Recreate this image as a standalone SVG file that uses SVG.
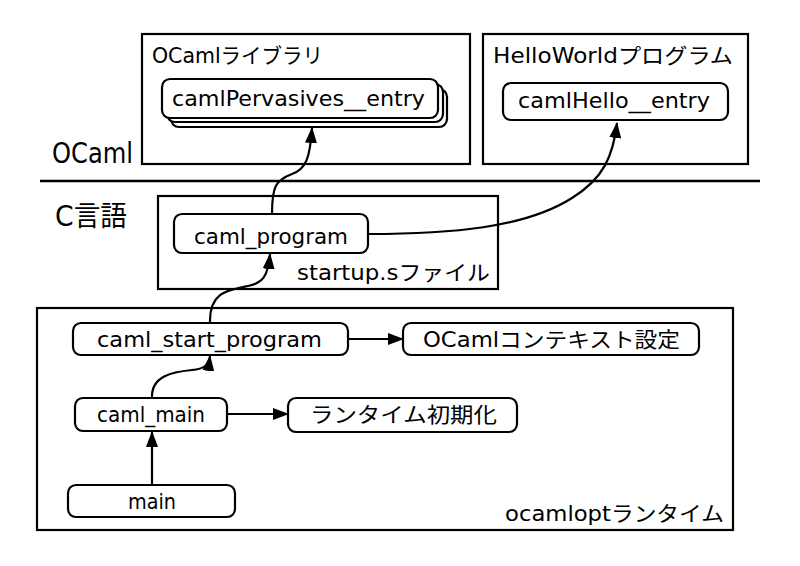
<svg xmlns="http://www.w3.org/2000/svg" width="800" height="566" viewBox="0 0 800 566">
<style>
.box{fill:#fff;stroke:#000;stroke-width:2.2}
.node{fill:#fff;stroke:#000;stroke-width:2.2}
.t{font-family:"DejaVu Sans","Noto Sans CJK JP",sans-serif;font-size:21px;fill:#000}
.big{font-family:"DejaVu Sans","Noto Sans CJK JP",sans-serif;font-size:28px;fill:#000}
.c{fill:none;stroke:#000;stroke-width:2.2}
</style>
<defs>
<marker id="ah" markerUnits="userSpaceOnUse" markerWidth="16" markerHeight="12" refX="15" refY="6" orient="auto" viewBox="0 0 16 12">
<path d="M0,0 L16,6 L0,12 z" fill="#000"/>
</marker>
</defs>
<rect width="800" height="566" fill="#fff"/>

<g id="lib">
<rect class="box" x="142" y="34" width="328" height="130"/>
<text class="t" x="152" y="63" textLength="171" lengthAdjust="spacingAndGlyphs">OCamlライブラリ</text>
</g>
<g id="pervasives">
<rect class="node" x="171" y="89" width="276" height="38" rx="8"/>
<rect class="node" x="167" y="84" width="276" height="38" rx="8"/>
<rect class="node" x="162" y="79" width="276" height="39" rx="8"/>
<text class="t" x="172" y="106" textLength="253" lengthAdjust="spacingAndGlyphs">camlPervasives__entry</text>
</g>
<g id="hello">
<rect class="box" x="483" y="34" width="265" height="130"/>
<text class="t" x="493" y="63" textLength="240" lengthAdjust="spacingAndGlyphs">HelloWorldプログラム</text>
</g>
<g id="hello_entry">
<rect class="node" x="503" y="83" width="225" height="37" rx="8"/>
<text class="t" x="518" y="108" textLength="192" lengthAdjust="spacingAndGlyphs">camlHello__entry</text>
</g>

<g id="separator">
<line x1="40" y1="181" x2="760" y2="181" stroke="#000" stroke-width="2.5"/>
<text class="big" x="52" y="163" textLength="81" lengthAdjust="spacingAndGlyphs">OCaml</text>
<text class="big" x="55" y="226" textLength="72" lengthAdjust="spacingAndGlyphs">C言語</text>
</g>

<g id="startup">
<rect class="box" x="158" y="196" width="340" height="93"/>
<text class="t" x="297" y="280" textLength="193" lengthAdjust="spacingAndGlyphs">startup.sファイル</text>
</g>
<g id="caml_program">
<rect class="node" x="174" y="214" width="194" height="39" rx="8"/>
<text class="t" x="194" y="244" textLength="154" lengthAdjust="spacingAndGlyphs">caml_program</text>
</g>

<g id="runtime">
<rect class="box" x="37" y="308" width="696" height="222"/>
<text class="t" x="505" y="521" textLength="219" lengthAdjust="spacingAndGlyphs">ocamloptランタイム</text>
</g>
<g id="caml_start_program">
<rect class="node" x="73" y="323" width="275" height="32" rx="8"/>
<text class="t" x="97" y="347" textLength="225" lengthAdjust="spacingAndGlyphs">caml_start_program</text>
</g>
<g id="context">
<rect class="node" x="403" y="323" width="296" height="32" rx="8"/>
<text class="t" x="423" y="347" textLength="257" lengthAdjust="spacingAndGlyphs">OCamlコンテキスト設定</text>
</g>
<g id="caml_main">
<rect class="node" x="75" y="398" width="152" height="33" rx="8"/>
<text class="t" x="97" y="422" textLength="108" lengthAdjust="spacingAndGlyphs">caml_main</text>
</g>
<g id="init">
<rect class="node" x="288" y="398" width="229" height="34" rx="8"/>
<text class="t" x="310" y="422" textLength="187" lengthAdjust="spacingAndGlyphs">ランタイム初期化</text>
</g>
<g id="main">
<rect class="node" x="68" y="485" width="167" height="32" rx="8"/>
<text class="t" x="128" y="509" textLength="48" lengthAdjust="spacingAndGlyphs">main</text>
</g>

<g id="connectors">
<path class="c" marker-end="url(#ah)" d="M152,485 V432"/>
<path class="c" marker-end="url(#ah)" d="M227,414 H288"/>
<path class="c" marker-end="url(#ah)" d="M348,339 H403"/>
<path class="c" marker-end="url(#ah)" d="M152,398 C151,376 172,372 192,370 C204,369 209,365 210,356"/>
<path class="c" marker-end="url(#ah)" d="M210,323 C209,292 228,290 248,286 C263,283 268,276 270,254"/>
<path class="c" marker-end="url(#ah)" d="M272,214 C272,186 276,180 292,174 C306,169 310,158 312,128"/>
<path class="c" marker-end="url(#ah)" d="M368,234 C450,234 525,228 572,198 C604,178 613,156 617,123"/>
</g>
</svg>
